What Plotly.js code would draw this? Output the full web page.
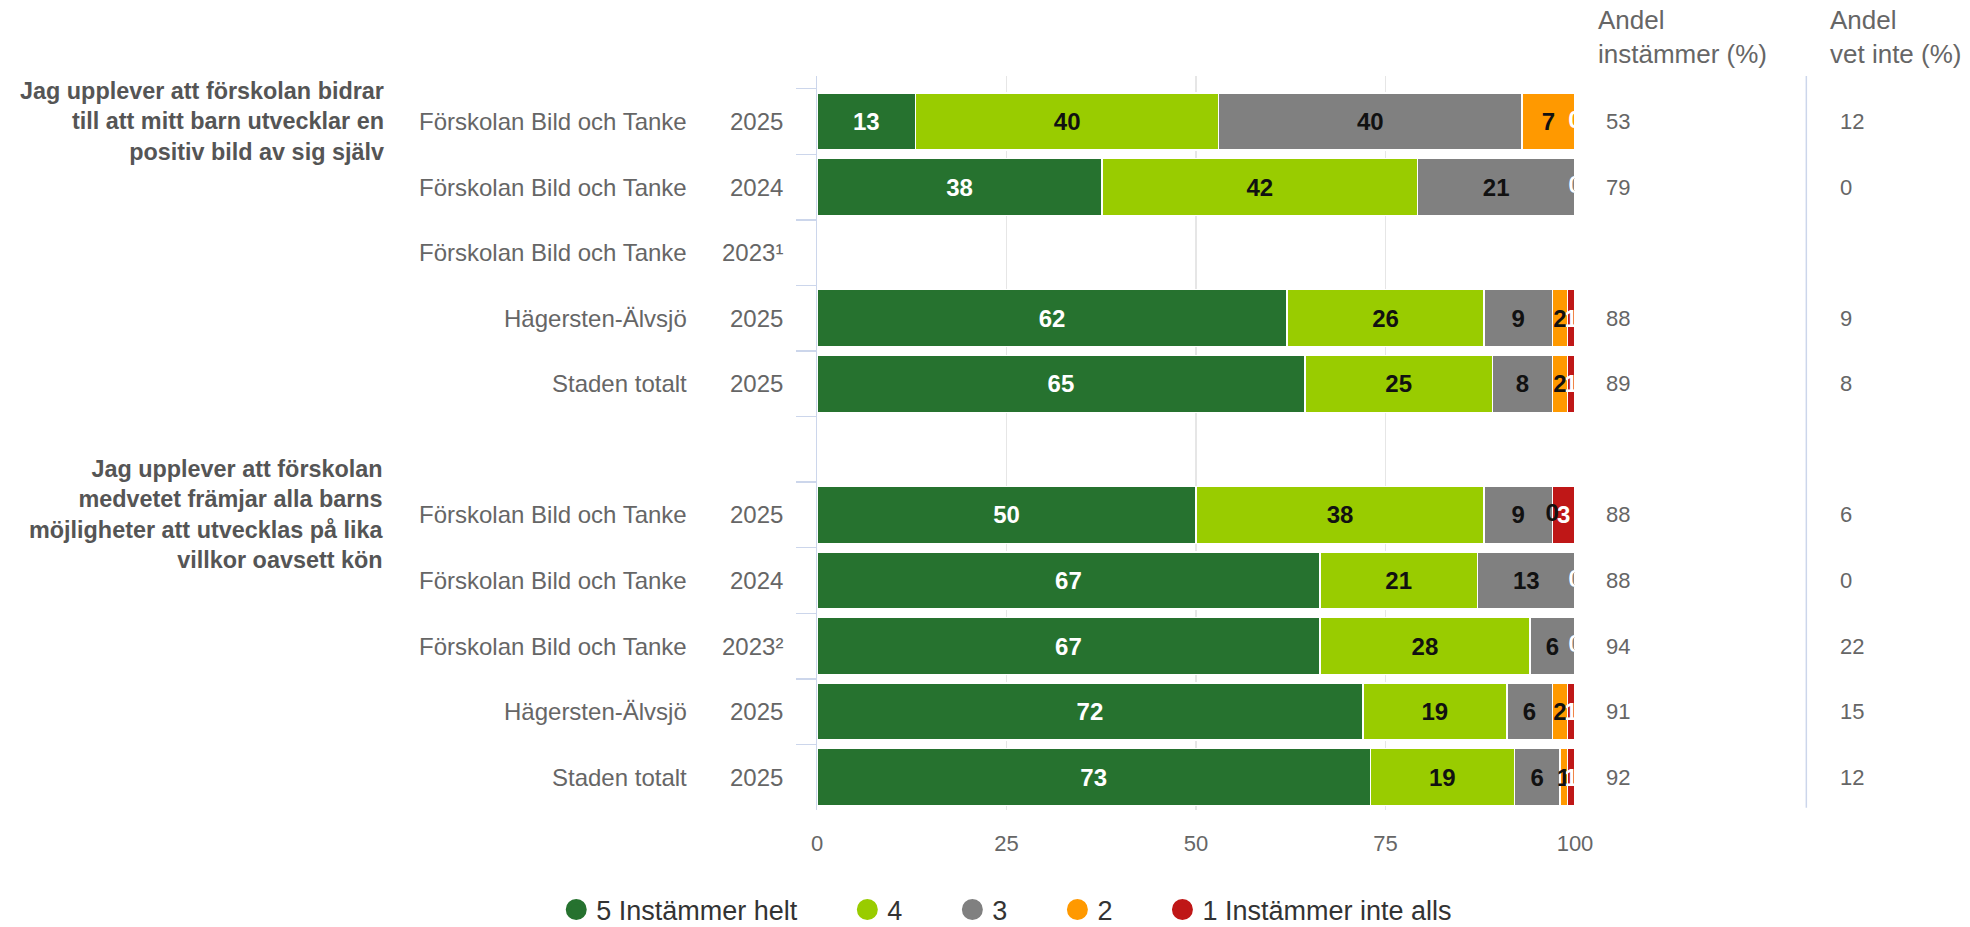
<!DOCTYPE html>
<html>
<head>
<meta charset="utf-8">
<script src="https://cdn.plot.ly/plotly-3.0.1.min.js"></script>
<style>
html,body{margin:0;padding:0;background:#ffffff;}
#chart{width:1970px;height:927px;}
</style>
</head>
<body>
<div id="chart"></div>
<script>
// ---------- data ----------
const questions = [
  "Jag upplever att förskolan bidrar<br>till att mitt barn utvecklar en<br>positiv bild av sig själv",
  "Jag upplever att förskolan<br>medvetet främjar alla barns<br>möjligheter att utvecklas på lika<br>villkor oavsett kön"
];
const questionRow = [0, 6];
const units = ["Förskolan Bild och Tanke", "Förskolan Bild och Tanke", "Förskolan Bild och Tanke", "Hägersten-Älvsjö", "Staden totalt", "",
               "Förskolan Bild och Tanke", "Förskolan Bild och Tanke", "Förskolan Bild och Tanke", "Hägersten-Älvsjö", "Staden totalt"];
const years = ["2025", "2024", "2023¹", "2025", "2025", "",
               "2025", "2024", "2023²", "2025", "2025"];
const seriesNames = ["5 Instämmer helt", "4", "3", "2", "1 Instämmer inte alls"];
const s5 = [13, 38, null, 62, 65, null, 50, 67, 67, 72, 73];
const s4 = [40, 42, null, 26, 25, null, 38, 21, 28, 19, 19];
const s3 = [40, 21, null, 9, 8, null, 9, 13, 6, 6, 6];
const s2 = [7, 0, null, 2, 2, null, 0, 0, 0, 2, 1];
const s1 = [0, 0, null, 1, 1, null, 3, 0, 0, 1, 1];
const andelInstammer = [53, 79, null, 88, 89, null, 88, 88, 94, 91, 92];
const andelVetInte = [12, 0, null, 9, 8, null, 6, 0, 22, 15, 12];
const headerInstammer = "Andel<br>instämmer (%)";
const headerVetInte = "Andel<br>vet inte (%)";
const xTicks = [0, 25, 50, 75, 100];

// ---------- styles ----------
const FONT = "Liberation Sans, Arial, Helvetica, sans-serif";
const seriesColors = ["#26722f", "#99cc00", "#808080", "#ff9900", "#bf1717"];
const labelColors = ["#ffffff", "#111111", "#111111", "#111111", "#ffffff"];
const legendPad = "\u00a0\u00a0\u00a0\u00a0\u00a0\u00a0";

const series = [s5, s4, s3, s2, s1];
const rowIds = units.map((u, i) => "row" + i);

const traces = [];
series.forEach((vals, k) => {
  traces.push({
    type: "bar",
    orientation: "h",
    name: seriesNames[k],
    y: rowIds,
    x: vals,
    text: vals.map(v => (v === null || v === 0) ? "" : String(v)),
    texttemplate: "%{text}",
    textposition: "inside",
    insidetextanchor: "middle",
    constraintext: "none",
    textangle: 0,
    textfont: {family: FONT, size: 24, weight: "bold", color: labelColors[k]},
    marker: {color: seriesColors[k], line: {color: "#ffffff", width: 1.5}},
    showlegend: false,
    hoverinfo: "skip"
  });
});

// labels for zero-valued segments (placed at their stacked position)
series.forEach((vals, k) => {
  const zx = [], zy = [], zt = [];
  vals.forEach((v, i) => {
    if (v === 0) {
      const total = series.reduce((a, s) => a + (s[i] || 0), 0);
      let before = 0;
      for (let j = 0; j < k; j++) before += series[j][i] || 0;
      zx.push(before / total * 100);
      zy.push(rowIds[i]);
      zt.push(String(v));
    }
  });
  if (zx.length) {
    traces.push({
      type: "scatter", mode: "text", x: zx, y: zy, text: zt,
      textposition: "middle center",
      textfont: {family: FONT, size: 24, weight: "bold", color: labelColors[k]},
      showlegend: false, hoverinfo: "skip", cliponaxis: true
    });
  }
});

// legend entries (circles)
series.forEach((vals, k) => {
  traces.push({
    type: "scatter", mode: "markers", x: [null], y: [null],
    name: seriesNames[k] + (k < series.length - 1 ? legendPad : ""),
    marker: {color: seriesColors[k], size: 16, symbol: "circle", line: {color: seriesColors[k], width: 5}},
    showlegend: true, hoverinfo: "skip"
  });
});

// ---------- annotations ----------
const annotations = [];
units.forEach((u, i) => {
  if (u) annotations.push({xref: "paper", yref: "y", x: -0.1694, y: rowIds[i], text: u,
    xanchor: "right", yanchor: "middle", showarrow: false, font: {family: FONT, size: 24, color: "#666666"}});
});
years.forEach((yv, i) => {
  if (yv) annotations.push({xref: "paper", yref: "y", x: -0.0418, y: rowIds[i], text: yv,
    xanchor: "right", yanchor: "middle", showarrow: false, font: {family: FONT, size: 24, color: "#666666"}});
});
questions.forEach((q, j) => {
  annotations.push({xref: "paper", yref: "y", x: -0.569, y: rowIds[questionRow[j]], text: q,
    xanchor: "right", yanchor: "middle", align: "right", showarrow: false,
    font: {family: FONT, size: 23.4, weight: "bold", color: "#555555"}});
});
andelInstammer.forEach((v, i) => {
  if (v !== null) annotations.push({xref: "paper", yref: "y", x: 1.0389, y: rowIds[i], text: String(v),
    xanchor: "left", yanchor: "middle", showarrow: false, font: {family: FONT, size: 22, color: "#666666"}});
});
andelVetInte.forEach((v, i) => {
  if (v !== null) annotations.push({xref: "paper", yref: "y", x: 1.3474, y: rowIds[i], text: String(v),
    xanchor: "left", yanchor: "middle", showarrow: false, font: {family: FONT, size: 22, color: "#666666"}});
});
annotations.push({xref: "paper", yref: "paper", x: 1.0283, y: 1.0525, text: headerInstammer,
  xanchor: "left", yanchor: "middle", align: "left", showarrow: false, font: {family: FONT, size: 26, color: "#666666"}});
annotations.push({xref: "paper", yref: "paper", x: 1.3342, y: 1.0525, text: headerVetInte,
  xanchor: "left", yanchor: "middle", align: "left", showarrow: false, font: {family: FONT, size: 26, color: "#666666"}});

const layout = {
  width: 1970, height: 927,
  margin: {l: 817, r: 395, t: 76, b: 117, pad: 0, autoexpand: false},
  paper_bgcolor: "#ffffff", plot_bgcolor: "#ffffff",
  font: {family: FONT, color: "#666666"},
  barmode: "stack", barnorm: "percent", bargap: 0.13,
  xaxis: {
    range: [0, 100], tickmode: "array", tickvals: xTicks, ticktext: xTicks.map(String),
    showgrid: true, gridcolor: "#e6e6e6", gridwidth: 1.5, zeroline: false, showline: false,
    ticks: "", tickfont: {family: FONT, size: 22, color: "#666666"}, ticklabelstandoff: 18, fixedrange: true
  },
  yaxis: {
    type: "category", categoryorder: "array", categoryarray: rowIds, autorange: "reversed",
    showticklabels: false, ticks: "outside", tickson: "boundaries", ticklen: 20, tickwidth: 1.5,
    tickcolor: "#ccd6eb", showline: true, linecolor: "#ccd6eb", linewidth: 1.5,
    showgrid: false, zeroline: false, fixedrange: true
  },
  legend: {
    orientation: "h", xref: "paper", yref: "paper",
    x: -0.344, xanchor: "left", y: -0.1362, yanchor: "middle",
    font: {family: FONT, size: 27, color: "#333333"}, itemsizing: "trace", traceorder: "normal",
    bgcolor: "rgba(0,0,0,0)"
  },
  shapes: [{type: "line", xref: "paper", yref: "paper", x0: 1.3052, x1: 1.3052, y0: 0.003, y1: 1,
    line: {color: "#ccd6eb", width: 1.5}}],
  annotations: annotations,
  showlegend: true
};

Plotly.newPlot("chart", traces, layout, {displayModeBar: false, staticPlot: true});
</script>
</body>
</html>
